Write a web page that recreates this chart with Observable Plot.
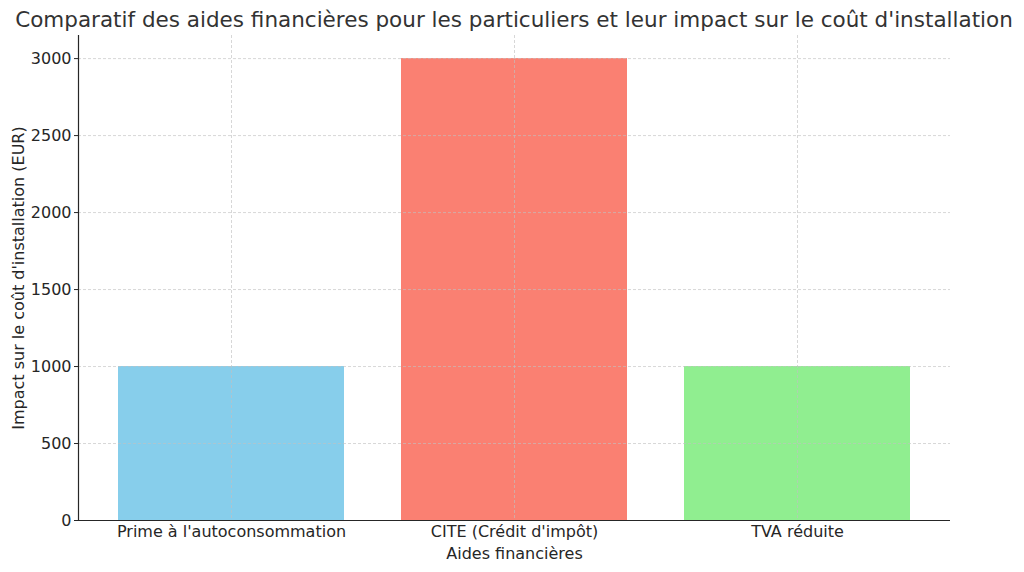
<!DOCTYPE html>
<html>
<head>
<meta charset="utf-8">
<script src="https://cdn.jsdelivr.net/npm/d3@7"></script>
<script src="https://cdn.jsdelivr.net/npm/@observablehq/plot@0.6"></script>
<style>
  html, body { margin: 0; padding: 0; background: #fff; }
  #wrap { position: relative; width: 1024px; height: 572px; font-family: "DejaVu Sans", sans-serif; }
  #title { position: absolute; left: 0; width: 1028px; top: 6px; text-align: center; font-size: 21.5px; line-height: 28px; color: #333; white-space: nowrap; }
  #chart { position: absolute; left: 0; top: 0; }
</style>
</head>
<body>
<div id="wrap">
  <div id="chart"></div>
  <div id="title">Comparatif des aides financières pour les particuliers et leur impact sur le coût d'installation</div>
</div>
<script>
const categories = ["Prime à l'autoconsommation", "CITE (Crédit d'impôt)", "TVA réduite"];
const values = [1000, 3000, 1000];
const colors = ["#87CEEB", "#FA8072", "#90EE90"];
const yTicks = [0, 500, 1000, 1500, 2000, 2500, 3000];
const xLabel = "Aides financières";
const yLabel = "Impact sur le coût d'installation (EUR)";

const data = categories.map((c, i) => ({category: c, value: values[i], color: colors[i]}));

const plot = Plot.plot({
  width: 1024,
  height: 572,
  marginTop: 35,
  marginBottom: 52,
  marginLeft: 78,
  marginRight: 74,
  style: {fontFamily: "DejaVu Sans, sans-serif", fontSize: "16px", color: "#262626", background: "white"},
  x: {domain: categories, paddingInner: 0.2, paddingOuter: 0.14, label: null},
  y: {domain: [0, 3150], label: null},
  marks: [
    Plot.barY(data, {x: "category", y: "value", fill: "color"}),
    Plot.gridY(yTicks, {stroke: "#c0c0c0", strokeOpacity: 0.8, strokeDasharray: "3,2", strokeWidth: 0.8}),
    Plot.gridX(categories, {stroke: "#c0c0c0", strokeOpacity: 0.8, strokeDasharray: "3,2", strokeWidth: 0.8}),
    Plot.axisY(yTicks, {tickSize: 4, tickPadding: 3, label: null, fontSize: 16, tickFormat: d3.format("d")}),
    Plot.axisX({tickSize: 0, tickPadding: 5, label: null, fontSize: 16}),
    Plot.ruleY([0], {stroke: "#262626", strokeWidth: 1.2}),
    Plot.frame({anchor: "left", stroke: "#262626", strokeWidth: 1.2}),
    Plot.text([xLabel], {frameAnchor: "bottom", dy: 38, fontSize: 16, fill: "#262626"}),
    Plot.text([yLabel], {frameAnchor: "left", dx: -60, rotate: -90, textAnchor: "middle", fontSize: 16, fill: "#262626"})
  ]
});
document.getElementById("chart").appendChild(plot);
</script>
</body>
</html>
